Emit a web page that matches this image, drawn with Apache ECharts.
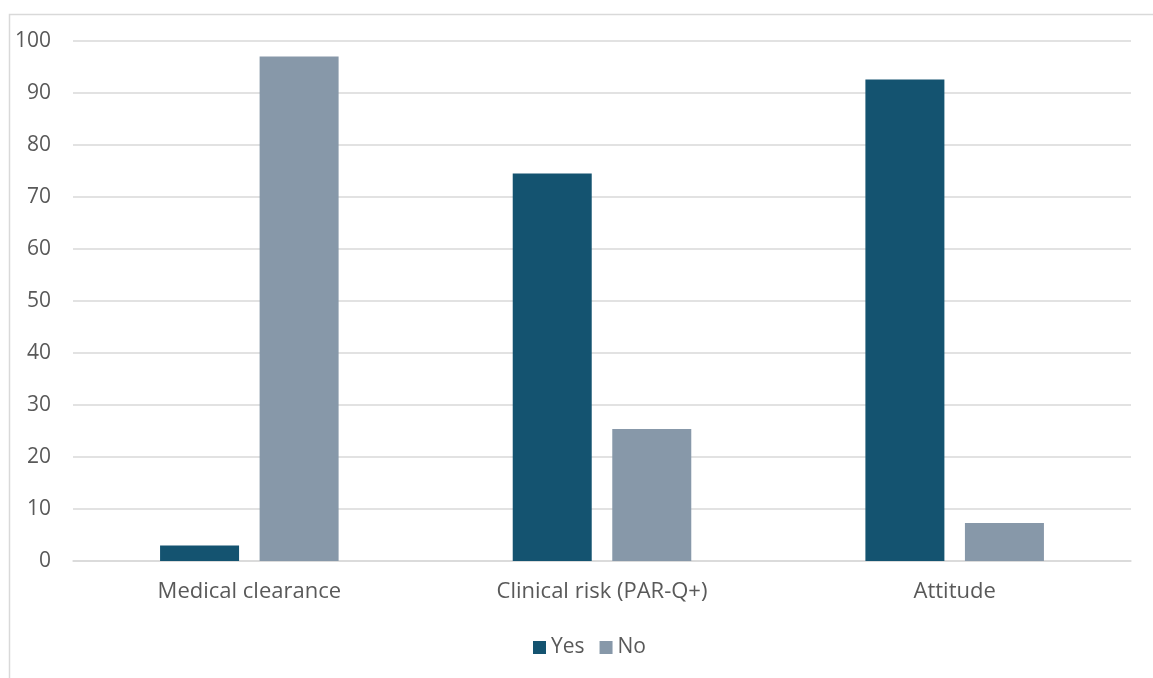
<!DOCTYPE html>
<html>
<head>
<meta charset="utf-8">
<script src="https://cdn.jsdelivr.net/npm/echarts@6/dist/echarts.min.js"></script>
<style>html,body{margin:0;padding:0;background:#fff;}#c{width:1153px;height:678px;}</style>
</head>
<body>
<div id="c"></div>
<script>
const categories = ['Medical clearance', 'Clinical risk (PAR-Q+)', 'Attitude'];
const seriesNames = ['Yes', 'No'];
const yesValues = [3, 74.5, 92.6];
const noValues = [97, 25.4, 7.3];
const yTicks = { min: 0, max: 100, interval: 10 };

const font = 'Open Sans';
const chart = echarts.init(document.getElementById('c'), null, { renderer: 'canvas' });
chart.setOption({
  animation: false,
  backgroundColor: '#ffffff',
  textStyle: { fontFamily: font },
  graphic: [{
    type: 'rect', left: 7, top: 12, z: -1,
    shape: { width: 1200, height: 720 },
    style: { fill: 'none', stroke: '#d9d9d9', lineWidth: 1.5 }
  }],
  grid: { left: 73, right: 22, top: 41, bottom: 117, containLabel: false },
  legend: {
    data: seriesNames,
    left: 528, top: 632,
    itemWidth: 13, itemHeight: 13, itemGap: 15,
    icon: 'rect',
    textStyle: { fontSize: 21, color: '#595959', fontFamily: font }
  },
  xAxis: {
    type: 'category',
    data: categories,
    axisLine: { show: true, lineStyle: { color: '#d9d9d9', width: 1.5 } },
    axisTick: { show: false },
    axisLabel: { color: '#595959', fontSize: 22, margin: 20, fontFamily: font }
  },
  yAxis: {
    type: 'value',
    min: yTicks.min, max: yTicks.max, interval: yTicks.interval,
    axisLine: { show: false },
    axisTick: { show: false },
    splitLine: { lineStyle: { color: '#d9d9d9', width: 1.5 } },
    axisLabel: { color: '#595959', fontSize: 21, margin: 22, fontFamily: font }
  },
  series: [
    { name: seriesNames[0], type: 'bar', data: yesValues, barWidth: 79, barGap: '26%',
      itemStyle: { color: '#145370' } },
    { name: seriesNames[1], type: 'bar', data: noValues, barWidth: 79,
      itemStyle: { color: '#8798a9' } }
  ]
});
</script>
</body>
</html>
